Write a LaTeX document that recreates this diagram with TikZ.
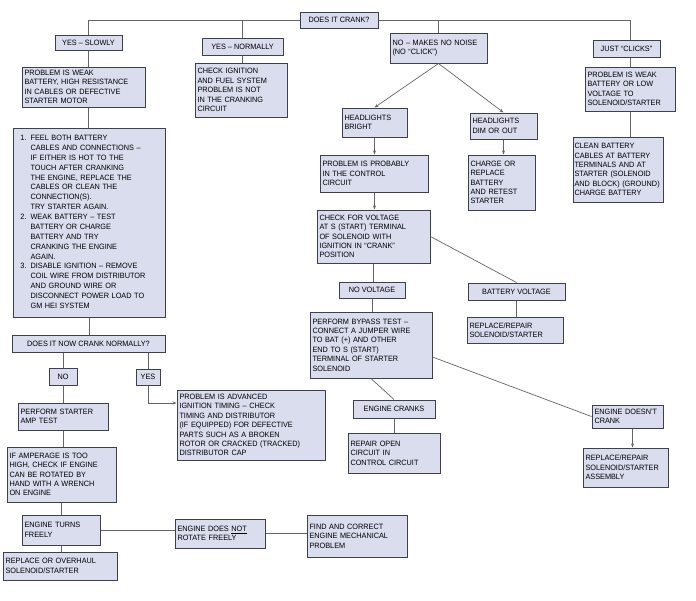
\documentclass[tikz,border=0pt]{standalone}
\usepackage{fontspec}
\setmainfont{Liberation Sans}[FakeStretch=0.95]
\usepackage{tikz}
\usetikzlibrary{arrows.meta,positioning,calc}
\definecolor{boxfill}{RGB}{217,221,238}
\definecolor{boxline}{RGB}{62,64,80}
\definecolor{wire}{RGB}{100,100,108}
\newcommand{\boxfont}{\fontsize{7.7}{9.4}\selectfont}

\begin{document}
\begin{tikzpicture}[x=1pt, y=-1pt,
  box/.style={draw=boxline, fill=boxfill, line width=1pt, inner xsep=2.5pt,
              inner ysep=1pt, font=\boxfont},
  txt/.style 2 args={box, minimum width=#1pt, minimum height=#2pt,
              align=left, text width=#1pt-5pt},
  lbl/.style 2 args={box, minimum width=#1pt, minimum height=#2pt, align=center},
  ln/.style={draw=wire, line width=0.7pt},
  arr/.style={ln, -{Stealth[length=4pt, width=3pt]}}]
\path[fill=white, use as bounding box] (0,0) rectangle (696,600);
% top question and its four answers
\node[lbl={78}{16}] (q0) at (339,20) {DOES IT CRANK?};
\node[lbl={67}{15}] (ys) at (88.5,42.5) {YES -- SLOWLY};
\node[lbl={81}{17}] (yn) at (242.5,46.5) {YES -- NORMALLY};
\node[txt={97}{30}] (nn) at (438.5,48) {NO -- MAKES NO NOISE\\(NO ``CLICK'')};
\node[lbl={67}{17}] (jc) at (626.5,48.5) {JUST ``CLICKS''};
\node[txt={123}{40}] (weak) at (83.5,87) {PROBLEM IS WEAK\\BATTERY, HIGH RESISTANCE\\IN CABLES OR DEFECTIVE\\STARTER MOTOR};
\node[txt={92}{54}] (ign) at (241,90) {CHECK IGNITION\\AND FUEL SYSTEM\\PROBLEM IS NOT\\IN THE CRANKING\\CIRCUIT};
\node[txt={90}{44}] (lowv) at (630,89) {PROBLEM IS WEAK\\BATTERY OR LOW\\VOLTAGE TO\\SOLENOID/STARTER};
% no noise branch
\node[txt={65}{29}] (hb) at (374.5,122.5) {HEADLIGHTS\\BRIGHT};
\node[txt={67}{26}] (hd) at (503.5,126) {HEADLIGHTS\\DIM OR OUT};
\node[txt={90}{65}, inner xsep=1.5pt, text width=87pt] (clean) at (618,169.5) {CLEAN BATTERY\\CABLES AT BATTERY\\TERMINALS AND AT\\STARTER (SOLENOID\\AND BLOCK) (GROUND)\\CHARGE BATTERY};
\node[txt={108}{37}] (ctl) at (374,173.5) {PROBLEM IS PROBABLY\\IN THE CONTROL\\CIRCUIT};
\node[txt={67}{55}] (chg) at (501.5,182.5) {CHARGE OR\\REPLACE\\BATTERY\\AND RETEST\\STARTER};
\node[txt={113}{53}] (chk) at (373.5,236.5) {CHECK FOR VOLTAGE\\AT S (START) TERMINAL\\OF SOLENOID WITH\\IGNITION IN ``CRANK''\\POSITION};
\node[lbl={66}{16}] (nv) at (372,290) {NO VOLTAGE};
\node[lbl={97}{17}] (bv) at (516.5,291.5) {BATTERY VOLTAGE};
\node[txt={96}{26}] (rs) at (515,330) {REPLACE/REPAIR\\SOLENOID/STARTER};
\node[txt={122}{66}] (byp) at (371,345) {PERFORM BYPASS TEST --\\CONNECT A JUMPER WIRE\\TO BAT (+) AND OTHER\\END TO S (START)\\TERMINAL OF STARTER\\SOLENOID};
\node[lbl={82}{18}] (ec) at (394,409) {ENGINE CRANKS};
\node[txt={92}{40}] (roc) at (394,453) {REPAIR OPEN\\CIRCUIT IN\\CONTROL CIRCUIT};
\node[txt={71}{23}] (edc) at (627.5,416.5) {ENGINE DOESN'T\\CRANK};
\node[txt={85}{39}] (rsa) at (625.5,467.5) {REPLACE/REPAIR\\SOLENOID/STARTER\\ASSEMBLY};
% slow cranking branch
\node[txt={152}{189}] (lst) at (89,222.5) {\renewcommand{\arraystretch}{1.05}%
  \begin{tabular}{@{\hspace{5pt}}l@{\hspace{4pt}}l@{}}
  1. & FEEL BOTH BATTERY\\
     & CABLES AND CONNECTIONS --\\
     & IF EITHER IS HOT TO THE\\
     & TOUCH AFTER CRANKING\\
     & THE ENGINE, REPLACE THE\\
     & CABLES OR CLEAN THE\\
     & CONNECTION(S).\\
     & TRY STARTER AGAIN.\\
  2. & WEAK BATTERY -- TEST\\
     & BATTERY OR CHARGE\\
     & BATTERY AND TRY\\
     & CRANKING THE ENGINE\\
     & AGAIN.\\
  3. & DISABLE IGNITION -- REMOVE\\
     & COIL WIRE FROM DISTRIBUTOR\\
     & AND GROUND WIRE OR\\
     & DISCONNECT POWER LOAD TO\\
     & GM HEI SYSTEM
  \end{tabular}};
\node[lbl={153}{17}] (dnc) at (88.5,343.5) {DOES IT NOW CRANK NORMALLY?};
\node[lbl={28}{17}] (no) at (63,376.5) {NO};
\node[lbl={24}{16}] (yes) at (148,377) {YES};
\node[txt={148}{70}] (adv) at (251,425) {PROBLEM IS ADVANCED\\IGNITION TIMING -- CHECK\\TIMING AND DISTRIBUTOR\\(IF EQUIPPED) FOR DEFECTIVE\\PARTS SUCH AS A BROKEN\\ROTOR OR CRACKED (TRACKED)\\DISTRIBUTOR CAP};
\node[txt={90}{27}] (amp) at (63,416.5) {PERFORM STARTER\\AMP TEST};
\node[txt={109}{55}] (ifa) at (61.5,474.5) {IF AMPERAGE IS TOO\\HIGH, CHECK IF ENGINE\\CAN BE ROTATED BY\\HAND WITH A WRENCH\\ON ENGINE};
\node[txt={78}{30}] (etf) at (61,530) {ENGINE TURNS\\FREELY};
\node[txt={114}{28}] (rov) at (60,566) {REPLACE OR OVERHAUL\\SOLENOID/STARTER};
\node[txt={90}{29}] (dnr) at (220,533.5) {ENGINE DOES \underline{NOT}\\ROTATE FREELY};
\node[txt={100}{42}] (fix) at (357,536) {FIND AND CORRECT\\ENGINE MECHANICAL\\PROBLEM};
% connectors
\draw[ln] (q0.west) -| (ys.north);
\draw[ln] (q0.east) -| (lowv.north |- jc.north);
\draw[ln] (yn.north) -- (yn.north |- q0.west);
\draw[ln] (nn.north) -- (nn.north |- q0.east);
\draw[ln] (ys.south) -- (ys.south |- weak.north);
\draw[ln] (weak.south -| ys.south) -- (lst.north -| ys.south);
\draw[ln] (yn.south) -- (yn.south |- ign.north);
\draw[ln] (lowv.north |- jc.south) -- (lowv.north);
\draw[ln] (lowv.south) -- (lowv.south |- clean.north);
\draw[arr] (nn.south) -- (hb.north);
\draw[arr] (nn.south) -- (hd.north);
\draw[arr] (hb.south) -- (hb.south |- ctl.north);
\draw[arr] (hb.south |- ctl.south) -- (hb.south |- chk.north);
\draw[arr] (hd.south) -- (hd.south |- chg.north);
\draw[ln] (chk.south) -- (chk.south |- nv.north);
\draw[ln] (chk.east) -- (bv.north);
\draw[ln] (bv.south) -- (bv.south |- rs.north);
\draw[ln] (nv.south) -- (nv.south |- byp.north);
\draw[ln] (byp.south) -- (ec.north);
\draw[ln] (ec.south) -- (roc.north);
\draw[ln] ([yshift=-12pt]byp.east) -- (edc.west);
\draw[arr] ([xshift=5pt]edc.south) -- ([xshift=5pt]edc.south |- rsa.north);
\draw[ln] (lst.south) -- (lst.south |- dnc.north);
\draw[ln] (no.north |- dnc.south) -- (no.north);
\draw[ln] (yes.north |- dnc.south) -- (yes.north);
\draw[arr] (yes.south) |- ([yshift=22pt]adv.west);
\draw[ln] (no.south) -- (amp.north);
\draw[ln] (amp.south) -- (amp.south |- ifa.north);
\draw[ln] (ifa.south) -- (ifa.south |- etf.north);
\draw[ln] (etf.south) -- (etf.south |- rov.north);
\draw[ln] (etf.east) -- (etf.east -| dnr.west);
\draw[ln] (dnr.east) -- (dnr.east -| fix.west);
\end{tikzpicture}
\end{document}
